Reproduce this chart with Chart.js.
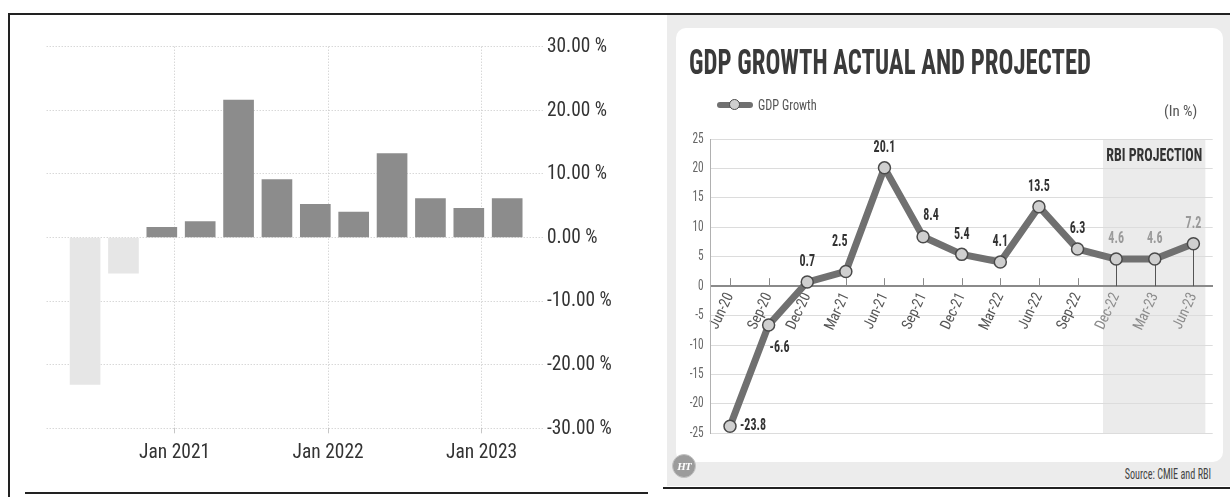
<!DOCTYPE html>
<html>
<head>
<meta charset="utf-8">
<script src="https://cdn.jsdelivr.net/npm/chart.js@4.4.0/dist/chart.umd.min.js"></script>
<style>
  html, body { margin: 0; padding: 0; background: #fff; }
  body { width: 1230px; height: 497px; position: relative; overflow: hidden; }
  .abs { position: absolute; }
  .t { position: absolute; white-space: nowrap; line-height: 1; }
  canvas { position: absolute; }
</style>
</head>
<body>
<!-- frame lines -->
<div class="abs" style="left:9px;top:13px;width:1221px;height:2px;background:#222"></div>
<div class="abs" style="left:8px;top:13px;width:2px;height:484px;background:#222"></div>
<div class="abs" style="left:25px;top:491.5px;width:623px;height:2px;background:#222"></div>

<!-- right panel background -->
<div class="abs" style="left:667px;top:15px;width:563px;height:471px;background:#ececec"></div>
<div class="abs" style="left:676px;top:28px;width:547px;height:434px;background:#fff;border-radius:10px"></div>
<div class="abs" style="left:663px;top:487px;width:567px;height:2px;background:#222"></div>

<canvas id="barChart" width="640" height="470" style="left:10px;top:20px"></canvas>
<canvas id="lineChart" width="547" height="434" style="left:676px;top:28px"></canvas>

<!-- right panel texts -->
<div class="t" id="title" data-w="402" style="left:689.3px;top:45.3px;font-size:35px;font-weight:bold;color:#3a3a3a;transform-origin:left center">GDP GROWTH ACTUAL AND PROJECTED</div>
<div class="abs" style="left:716.7px;top:102px;width:36.3px;height:6px;background:#707070;border-radius:3px"></div>
<div class="abs" style="left:729px;top:99px;width:9px;height:9px;border-radius:50%;background:#cfcfcf;border:1.5px solid #4a4a4a"></div>
<div class="t" id="legendText" data-w="58.7" style="left:758px;top:97.6px;font-size:15px;color:#555;transform-origin:left center">GDP Growth</div>
<div class="t" id="unitText" data-w="33.3" style="left:1164px;top:104.3px;font-size:15px;color:#555;transform-origin:left center">(In %)</div>
<div class="t" id="sourceText" data-w="86.4" style="right:19.3px;top:467.1px;font-size:14px;color:#444;transform-origin:right center">Source: CMIE and RBI</div>
<div class="abs" style="left:672px;top:454px;width:22px;height:22px;border-radius:50%;background:#9c9c9c;border:1.5px solid #c4c4c4;color:#fff;font:italic bold 11px 'Liberation Serif',serif;line-height:22px;text-align:center;letter-spacing:-1px">HT</div>

<script>
// ---------------- DATA ----------------
// Left chart: quarterly GDP growth (quarter dates and % values)
const barQuarters = ['2020-06','2020-09','2020-12','2021-03','2021-06','2021-09','2021-12','2022-03','2022-06','2022-09','2022-12','2023-03'];
const barValues   = [-23.1, -5.6, 1.6, 2.5, 21.6, 9.1, 5.2, 4.0, 13.2, 6.1, 4.6, 6.1];
const barXTickLabels = ['Jan 2021', 'Jan 2022', 'Jan 2023'];
const barYTicks = [-30, -20, -10, 0, 10, 20, 30];

// Right chart: GDP growth actual and projected
const gdpCategories = ['Jun-20','Sep-20','Dec-20','Mar-21','Jun-21','Sep-21','Dec-21','Mar-22','Jun-22','Sep-22','Dec-22','Mar-23','Jun-23'];
const gdpValues     = [-23.8, -6.6, 0.7, 2.5, 20.1, 8.4, 5.4, 4.1, 13.5, 6.3, 4.6, 4.6, 7.2];
const projectionStart = 'Dec-22';
const gdpYTicks = [-25, -20, -15, -10, -5, 0, 5, 10, 15, 20, 25];

// ---------------- FONTS ----------------
const mctx = document.createElement('canvas').getContext('2d');
function hasFont(name) {
  const s = 'abcdefghijklmnopqrstuvwxyz0123456789ABCDEFGH';
  mctx.font = '40px monospace'; const a = mctx.measureText(s).width;
  mctx.font = '40px "' + name + '", monospace'; const b = mctx.measureText(s).width;
  return Math.abs(a - b) > 0.5;
}
const FAMILY = ['Liberation Sans Narrow', 'Roboto Condensed'].find(hasFont) || 'Liberation Sans';
const FF = '"' + FAMILY + '", "Liberation Sans", Arial, sans-serif';
document.body.style.fontFamily = FF;

// horizontal condensation per font role (calibrated to reference widths)
const SX = {};
function calib(size, bold, sample, target) {
  mctx.font = (bold ? 'bold ' : '') + size + 'px ' + FF;
  SX[(bold ? 'b' : 'n') + size] = target / mctx.measureText(sample).width;
}
calib(21, false, '30.00 %', 60);     // left y ticks
calib(20, false, 'Jan 2021', 71);    // left x ticks
calib(14, false, '-25', 14);         // right y ticks
calib(15, false, 'Jun-20', 38);      // right x ticks
calib(17, true, '20.1', 21.7);       // data labels
calib(18, true, 'RBI PROJECTION', 96);

function condense(ctx) {
  const orig = ctx.fillText;
  ctx.fillText = function (text, x, y) {
    const f = this.font;
    const m = /(\d+(?:\.\d+)?)px/.exec(f);
    const bold = /\bbold\b|\b[6-9]00\b/.test(f);
    const s = m ? SX[(bold ? 'b' : 'n') + Math.round(parseFloat(m[1]))] : undefined;
    if (!s) return orig.call(this, text, x, y);
    this.save();
    this.translate(x, y);
    this.scale(s, 1);
    orig.call(this, text, 0, 0);
    this.restore();
  };
}

// HTML text condensation
document.querySelectorAll('[data-w]').forEach(el => {
  const w = el.getBoundingClientRect().width;
  el.style.transform = 'scaleX(' + (parseFloat(el.dataset.w) / w) + ')';
});

// ---------------- LEFT: BAR CHART ----------------
function monthIndex(y, m) { return (y - 2020) * 12 + (m - 1); }
const MONTHS = ['Jan','Feb','Mar','Apr','May','Jun','Jul','Aug','Sep','Oct','Nov','Dec'];
const barX = barQuarters.map(q => { const [y, m] = q.split('-').map(Number); return monthIndex(y, m); });
const barTickVals = barXTickLabels.map(l => { const [mn, y] = l.split(' '); return monthIndex(+y, MONTHS.indexOf(mn) + 1); });

const lctx = document.getElementById('barChart').getContext('2d');
condense(lctx);
const gridGrey = '#c6c6c6';
new Chart(lctx, {
  type: 'bar',
  data: {
    datasets: [{
      label: 'GDP Growth Rate',
      data: barX.map((x, i) => ({ x, y: barValues[i] })),
      backgroundColor: barValues.map(v => v < 0 ? '#e6e6e6' : '#8c8c8c'),
      borderWidth: 0,
      barThickness: 30
    }]
  },
  options: {
    responsive: false,
    animation: false,
    layout: { padding: { left: 36.7, top: 26.7, right: 0, bottom: 0 } },
    plugins: { legend: { display: false }, tooltip: { enabled: false } },
    scales: {
      x: {
        type: 'linear',
        offset: false,
        min: 2, max: 40.8,
        bounds: 'ticks',
        afterBuildTicks: s => { s.ticks = barTickVals.map(v => ({ value: v })); },
        afterDataLimits: s => { s.min = 2; s.max = 40.8; },
        afterFit: s => { s.height = 61.7; },
        grid: { offset: false, color: gridGrey, lineWidth: 1, tickLength: 5, drawTicks: true, tickColor: gridGrey },
        border: { display: false, dash: [1, 2] },
        ticks: {
          autoSkip: false, maxRotation: 0, minRotation: 0, padding: 8,
          color: '#333', font: { size: 20, family: FF },
          callback: (v, i) => barXTickLabels[i]
        }
      },
      y: {
        position: 'right',
        min: -30, max: 30,
        afterBuildTicks: s => { s.ticks = barYTicks.map(v => ({ value: v })); },
        afterFit: s => { s.width = 107; },
        grid: { color: gridGrey, lineWidth: 1, drawTicks: false },
        border: { display: false, dash: [1, 2] },
        ticks: {
          padding: 4, color: '#333', font: { size: 21, family: FF },
          callback: v => v.toFixed(2) + ' %'
        }
      }
    }
  }
});

// ---------------- RIGHT: LINE CHART ----------------
const projIdx = gdpCategories.indexOf(projectionStart);
const rctx = document.getElementById('lineChart').getContext('2d');
condense(rctx);

const gdpDecor = {
  id: 'gdpDecor',
  beforeDraw(chart) {
    const { ctx, chartArea: ca, scales: { x: xs } } = chart;
    const step = xs.getPixelForValue(1) - xs.getPixelForValue(0);
    const x0 = xs.getPixelForValue(projIdx) - 0.34 * step;
    const x1 = xs.getPixelForValue(gdpCategories.length - 1) + 0.31 * step;
    ctx.save();
    ctx.fillStyle = '#ebebeb';
    ctx.fillRect(x0, ca.top, x1 - x0, ca.bottom - ca.top);
    ctx.restore();
    chart.$proj = { x0, x1 };
  },
  beforeDatasetsDraw(chart) {
    const { ctx, scales: { x: xs, y: ys } } = chart;
    const y0 = ys.getPixelForValue(0);
    const meta = chart.getDatasetMeta(0);
    ctx.save();
    ctx.strokeStyle = '#8a8a8a';
    ctx.lineWidth = 1;
    gdpCategories.forEach((c, i) => {
      const x = Math.round(xs.getPixelForValue(i)) + 0.5;
      ctx.beginPath(); ctx.moveTo(x, y0); ctx.lineTo(x, y0 - 8); ctx.stroke();
    });
    ctx.strokeStyle = '#555';
    for (let i = projIdx; i < gdpCategories.length; i++) {
      const p = meta.data[i];
      const x = Math.round(p.x) + 0.5;
      ctx.beginPath(); ctx.moveTo(x, y0); ctx.lineTo(x, p.y); ctx.stroke();
    }
    ctx.restore();
  },
  afterDatasetsDraw(chart) {
    const { ctx, chartArea: ca } = chart;
    const meta = chart.getDatasetMeta(0);
    ctx.save();
    ctx.textBaseline = 'middle';
    ctx.font = 'bold 17px ' + FF;
    meta.data.forEach((p, i) => {
      const v = gdpValues[i];
      const prev = i > 0 ? gdpValues[i - 1] : v;
      const next = i < gdpValues.length - 1 ? gdpValues[i + 1] : v;
      const txt = v.toFixed(1);
      ctx.fillStyle = i >= projIdx ? '#9a9a9a' : '#333';
      if (v < -10) { ctx.textAlign = 'left'; ctx.fillText(txt, p.x + 10, p.y); return; }
      if (v < 0) { ctx.textAlign = 'left'; ctx.fillText(txt, p.x + 1, p.y + 23); return; }
      // keep the label clear of steep neighbouring segments
      let dx = 0, dy = -20;
      if (next - v > 10) { dx = -6; dy = -30; }
      else if (prev - v > 10) { dx = 8; dy = -21; }
      ctx.textAlign = 'center';
      ctx.fillText(txt, p.x + dx, p.y + dy);
    });
    const { x0, x1 } = chart.$proj;
    ctx.font = 'bold 18px ' + FF;
    ctx.fillStyle = '#333';
    ctx.textAlign = 'center';
    ctx.fillText('RBI PROJECTION', (x0 + x1) / 2, ca.top + 0.06 * (ca.bottom - ca.top));
    ctx.restore();
  }
};

new Chart(rctx, {
  type: 'line',
  data: {
    labels: gdpCategories,
    datasets: [{
      label: 'GDP Growth',
      data: gdpValues,
      borderColor: '#707070',
      borderWidth: 7,
      borderJoinStyle: 'round',
      borderCapStyle: 'round',
      tension: 0,
      pointRadius: 6,
      pointBackgroundColor: '#cfcfcf',
      pointBorderColor: '#4a4a4a',
      pointBorderWidth: 1.5
    }]
  },
  options: {
    responsive: false,
    animation: false,
    layout: { padding: { left: 0, right: 10.3, top: 111, bottom: 28.7 } },
    plugins: { legend: { display: false }, tooltip: { enabled: false } },
    scales: {
      x: {
        type: 'category',
        offset: true,
        position: { y: 0 },
        grid: { display: true, drawOnChartArea: false, drawTicks: false },
        border: { display: true, color: '#8a8a8a', width: 2 },
        ticks: {
          autoSkip: false, minRotation: 65, maxRotation: 65, padding: 4,
          color: c => c.index >= projIdx ? '#8c8c8c' : '#555',
          font: { size: 15, family: FF }
        }
      },
      y: {
        min: -25, max: 25,
        afterBuildTicks: s => { s.ticks = gdpYTicks.map(v => ({ value: v })); },
        afterFit: s => { s.width = 34.7; },
        grid: { color: '#dcdcdc', lineWidth: 1, drawTicks: false },
        border: { display: true, color: '#b0b0b0', width: 1 },
        ticks: { padding: 7, color: '#666', font: { size: 14, family: FF } }
      }
    }
  },
  plugins: [gdpDecor]
});
</script>
</body>
</html>
